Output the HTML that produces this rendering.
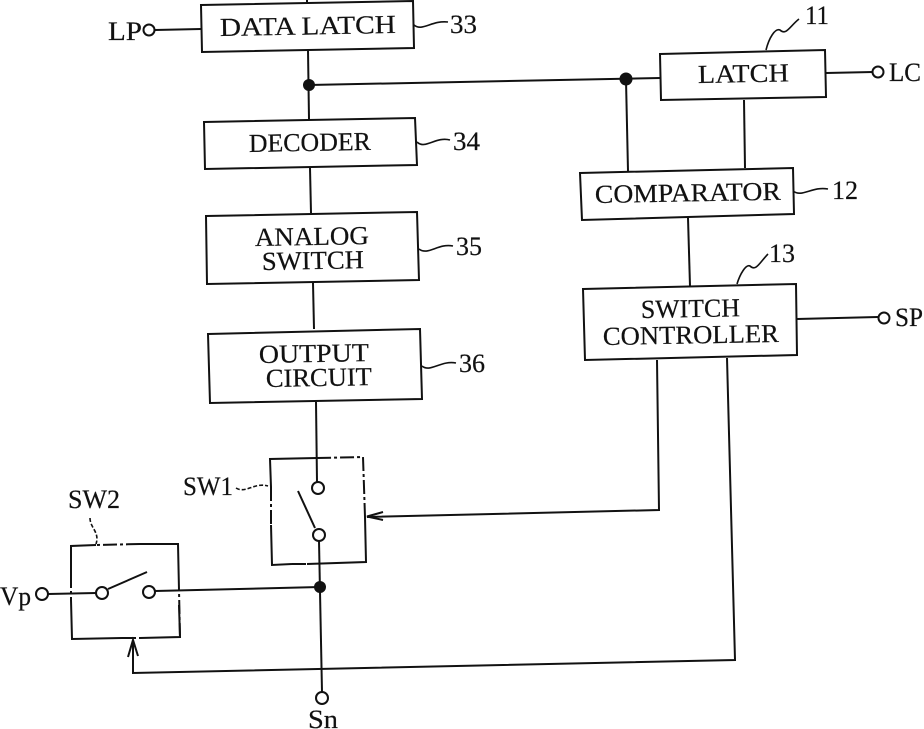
<!DOCTYPE html>
<html><head><meta charset="utf-8"><style>
html,body{margin:0;padding:0;background:#fff}
svg{display:block}
text{font-family:"Liberation Serif",serif;font-size:26px;fill:#111;stroke:#111;stroke-width:.2}
.b,.l,.t{fill:none;stroke:#111;stroke-width:2}
.t{stroke-width:1.6}
.d{stroke-dasharray:14 3 3 3}
.c{fill:#fff;stroke:#111;stroke-width:2}
</style></head><body>
<svg width="924" height="729" viewBox="0 0 924 729" xmlns="http://www.w3.org/2000/svg">
<rect width="924" height="729" fill="#fff"/>
<!-- boxes -->
<polygon class="b" points="201,5 413,1 414,48 202,52"/>
<polygon class="b" points="204,122 415,118 417,165 205,169"/>
<polygon class="b" points="206,216 417,212 419,280 207,284"/>
<polygon class="b" points="208,334 420,329 422,399 210,403"/>
<polygon class="b" points="660,54 825,50 826,97 661,100"/>
<polygon class="b" points="580,173 793,168 794,214 582,220"/>
<polygon class="b" points="583,289 796,284 797,355 585,360"/>
<!-- SW1 box -->
<path class="l" d="M317,458 L270,459 L271,487"/>
<path class="l d" d="M271,487 L271,525"/>
<path class="l" d="M271,525 L272,565 L292,564"/>
<path class="l d" d="M292,564 L307,564"/>
<path class="l" d="M307,564 L366,562 L365,517"/>
<path class="l d" d="M365,517 L363,457 L317,458"/>
<!-- SW2 box -->
<path class="l" d="M96,545 L71,546 L71,574"/>
<path class="l d" d="M71,574 L71,600"/>
<path class="l" d="M71,600 L72,639 L122,638"/>
<path class="l d" d="M122,638 L140,638"/>
<path class="l" d="M140,638 L180,637 L179,605"/>
<path class="l d" d="M180,637 L179,590"/>
<path class="l" d="M179,590 L178,544 L140,544"/>
<path class="l d" d="M140,544 L96,545"/>
<!-- connectors -->
<path class="l" d="M307,0 L307,2"/>
<path class="l" d="M308,50 L309,119"/>
<path class="l" d="M310,168 L311,213"/>
<path class="l" d="M313,283 L314,329"/>
<path class="l" d="M316,402 L317,482"/>
<path class="l" d="M309,85 L660,78"/>
<path class="l" d="M626,80 L628,171"/>
<path class="l" d="M744,100 L745,168"/>
<path class="l" d="M688,218 L690,286"/>
<path class="l" d="M155,30 L201,29"/>
<path class="l" d="M826,73 L873,72"/>
<path class="l" d="M797,319 L878,317"/>
<path class="l" d="M657,360 L659,510 L367,517"/>
<path class="l" d="M383,512 L367,516.500 L383,520"/>
<path class="l" d="M727,358 L735,660 L133,673 L133,640"/>
<path class="l" d="M128,657 L133,640 L138,656"/>
<path class="l" d="M319,541 L322,692"/>
<path class="l" d="M48,594 L96,593"/>
<path class="l" d="M155,591 L320,587"/>
<path class="l" d="M298,491 L315,528"/>
<path class="l" d="M108,589 L147,572"/>
<!-- terminals -->
<circle class="c" cx="149" cy="30" r="5.500"/>
<circle class="c" cx="878" cy="72" r="5.500"/>
<circle class="c" cx="884" cy="318" r="5.500"/>
<circle class="c" cx="318" cy="488" r="6"/>
<circle class="c" cx="319" cy="535" r="6"/>
<circle class="c" cx="42" cy="594" r="6"/>
<circle class="c" cx="102" cy="593" r="6"/>
<circle class="c" cx="149" cy="592" r="6"/>
<circle class="c" cx="322" cy="698" r="6"/>
<circle cx="309" cy="85" r="6" fill="#111"/>
<circle cx="626" cy="79" r="6.500" fill="#111"/>
<circle cx="320" cy="587" r="6" fill="#111"/>
<!-- leaders -->
<path class="t" d="M414,25 C422,32 432,20 448,22"/>
<path class="t" d="M417,142 C425,150 436,136 450,140"/>
<path class="t" d="M419,249 C428,256 438,243 453,246"/>
<path class="t" d="M422,366 C430,373 441,360 456,363"/>
<path class="t" d="M766,50 C769,38 775,28 780,30 C786,36 790,26 799,19"/>
<path class="t" d="M793,191 C802,198 812,186 828,189"/>
<path class="t" d="M737,284 C740,274 746,264 750,266 C756,272 760,262 768,254"/>
<path class="t" stroke-dasharray="4 2" d="M236,488 C246,494 254,482 268,486"/>
<path class="t" stroke-dasharray="4 2" d="M90,518 C90,528 100,532 96,544"/>
<!-- labels -->
<text lengthAdjust="spacingAndGlyphs" x="220" y="36" textLength="176" transform="rotate(-1 220 36)">DATA LATCH</text>
<text lengthAdjust="spacingAndGlyphs" x="249" y="152" textLength="122" transform="rotate(-1 249 152)">DECODER</text>
<text lengthAdjust="spacingAndGlyphs" x="255" y="246" textLength="114" transform="rotate(-1 255 246)">ANALOG</text>
<text lengthAdjust="spacingAndGlyphs" x="262" y="270" textLength="102" transform="rotate(-1 262 270)">SWITCH</text>
<text lengthAdjust="spacingAndGlyphs" x="259" y="363" textLength="110" transform="rotate(-1 259 363)">OUTPUT</text>
<text lengthAdjust="spacingAndGlyphs" x="266" y="387" textLength="106" transform="rotate(-1 266 387)">CIRCUIT</text>
<text lengthAdjust="spacingAndGlyphs" x="698" y="83" textLength="91" transform="rotate(-1 698 83)">LATCH</text>
<text lengthAdjust="spacingAndGlyphs" x="595" y="203" textLength="186" transform="rotate(-1 595 203)">COMPARATOR</text>
<text lengthAdjust="spacingAndGlyphs" x="641" y="318" textLength="99" transform="rotate(-1 641 318)">SWITCH</text>
<text lengthAdjust="spacingAndGlyphs" x="603" y="345" textLength="176" transform="rotate(-1 603 345)">CONTROLLER</text>
<text lengthAdjust="spacingAndGlyphs" x="108" y="40" textLength="34">LP</text>
<text lengthAdjust="spacingAndGlyphs" x="889" y="81" textLength="32">LC</text>
<text lengthAdjust="spacingAndGlyphs" x="895" y="326" textLength="28">SP</text>
<text lengthAdjust="spacingAndGlyphs" x="0" y="605" textLength="31">Vp</text>
<text lengthAdjust="spacingAndGlyphs" x="308" y="728" textLength="30">Sn</text>
<text lengthAdjust="spacingAndGlyphs" x="183" y="495" textLength="50">SW1</text>
<text lengthAdjust="spacingAndGlyphs" x="68" y="508" textLength="52">SW2</text>
<text lengthAdjust="spacingAndGlyphs" x="450" y="33" textLength="27">33</text>
<text lengthAdjust="spacingAndGlyphs" x="453" y="150" textLength="27">34</text>
<text lengthAdjust="spacingAndGlyphs" x="456" y="255" textLength="26">35</text>
<text lengthAdjust="spacingAndGlyphs" x="459" y="372" textLength="26">36</text>
<text lengthAdjust="spacingAndGlyphs" x="805" y="24" textLength="24">11</text>
<text lengthAdjust="spacingAndGlyphs" x="832" y="199" textLength="26">12</text>
<text lengthAdjust="spacingAndGlyphs" x="769" y="262" textLength="26">13</text>
</svg>
</body></html>
